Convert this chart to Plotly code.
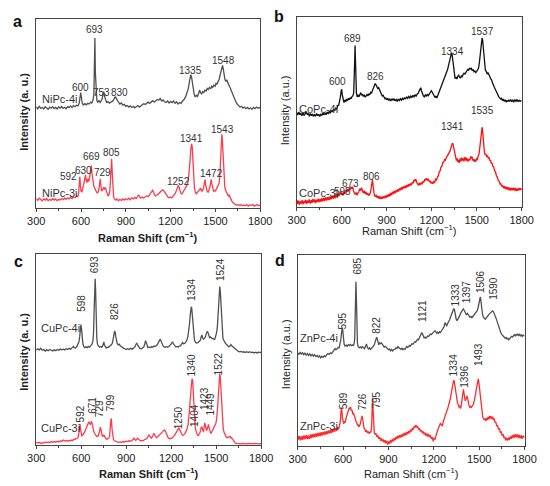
import plotly.graph_objects as go

# spectra as (Raman shift, intensity in % of panel height)
NIPC_4I = [(300,53.5),(310,52.5),(320,53.8),(330,52.8),(340,53.2),(350,52.4),(360,53.6),(370,53.0),(380,52.2),(390,53.4),(400,52.8),(410,53.6),(420,52.6),(430,53.2),(440,52.4),(450,53.5),(460,52.9),(470,53.7),(480,52.7),(490,53.3),(500,52.5),(510,53.6),(520,53.1),(530,54.0),(540,53.2),(550,54.2),(560,53.6),(570,54.4),(580,54.0),(588,55.5),(594,58.5),(598,61.0),(602,59.0),(608,55.5),(615,54.5),(625,55.2),(635,54.6),(645,55.4),(655,55.0),(665,56.0),(672,55.6),(680,57.0),(686,60.0),(690,75.0),(693,90.0),(696,72.0),(700,60.0),(706,57.0),(712,56.0),(720,56.8),(728,55.8),(735,56.6),(742,57.8),(748,60.5),(753,61.5),(758,59.0),(765,56.5),(772,55.6),(780,56.4),(790,55.5),(800,56.0),(810,56.4),(818,57.2),(825,58.4),(830,59.0),(836,58.0),(842,57.0),(850,56.2),(860,55.0),(870,55.6),(880,54.4),(890,54.8),(900,53.8),(910,54.2),(920,53.4),(930,54.0),(940,53.2),(950,53.8),(960,53.0),(970,53.6),(980,54.2),(990,53.4),(1000,54.0),(1010,54.6),(1020,55.2),(1030,54.8),(1040,55.6),(1050,56.0),(1060,55.4),(1070,56.2),(1080,56.8),(1090,56.0),(1100,56.8),(1110,57.4),(1120,57.0),(1130,58.0),(1140,56.6),(1150,57.2),(1160,56.2),(1170,55.8),(1180,56.6),(1190,55.6),(1200,56.4),(1210,55.8),(1220,56.6),(1230,55.4),(1240,56.2),(1250,55.0),(1260,55.8),(1270,55.4),(1280,56.6),(1290,57.4),(1300,58.8),(1310,60.6),(1318,63.0),(1325,66.5),(1330,69.0),(1335,70.5),(1340,69.5),(1346,66.0),(1352,62.5),(1358,60.0),(1365,58.8),(1372,59.6),(1380,59.0),(1388,60.6),(1395,62.4),(1400,61.0),(1408,60.4),(1415,61.6),(1422,61.0),(1430,62.4),(1438,61.8),(1445,63.2),(1452,62.6),(1460,63.8),(1468,63.0),(1475,64.4),(1482,63.8),(1490,65.0),(1498,64.4),(1505,66.0),(1512,65.4),(1518,67.0),(1525,68.0),(1532,70.5),(1538,73.0),(1544,75.0),(1548,75.5),(1553,73.5),(1558,70.0),(1564,68.0),(1570,67.0),(1576,67.8),(1582,66.6),(1588,65.8),(1594,64.4),(1600,63.4),(1608,61.8),(1615,60.2),(1622,58.6),(1630,57.2),(1638,56.0),(1646,55.0),(1655,54.2),(1665,53.4),(1675,53.8),(1685,52.8),(1695,53.4),(1705,52.6),(1715,53.2),(1725,52.4),(1735,53.0),(1745,52.2),(1755,53.2),(1765,52.6),(1775,53.4),(1785,52.8),(1795,53.2),(1800,52.8)]

NIPC_3I = [(300,5.0),(310,4.0),(320,5.2),(330,4.4),(340,3.8),(350,4.8),(360,4.2),(370,5.0),(380,3.8),(390,4.6),(400,4.0),(410,5.0),(420,4.2),(430,4.8),(440,3.8),(450,4.6),(460,4.2),(470,5.0),(480,4.4),(490,5.2),(500,4.6),(510,5.4),(520,4.8),(530,5.6),(540,5.0),(550,5.8),(560,5.4),(570,6.4),(578,6.0),(584,8.0),(588,13.0),(592,16.5),(596,12.0),(600,9.0),(606,8.6),(612,10.0),(618,12.5),(624,15.0),(630,17.5),(635,14.5),(640,13.5),(646,15.5),(652,14.0),(658,16.5),(663,19.5),(669,22.5),(674,18.0),(680,14.0),(686,11.5),(692,10.5),(698,9.0),(704,8.4),(710,8.0),(716,8.6),(721,10.5),(725,13.5),(729,15.5),(733,12.0),(738,9.0),(744,9.6),(750,10.6),(756,10.0),(762,11.0),(768,9.6),(774,7.6),(780,6.6),(786,6.8),(792,8.5),(797,14.0),(801,22.0),(805,26.0),(809,19.0),(813,9.0),(818,6.0),(824,4.8),(832,4.2),(840,4.8),(850,3.8),(860,4.6),(870,4.0),(880,4.8),(890,4.2),(900,5.0),(910,4.4),(920,5.2),(930,4.4),(940,5.4),(950,4.8),(960,5.6),(970,5.0),(980,6.2),(986,7.0),(992,6.0),(1000,5.2),(1010,5.8),(1020,5.2),(1030,6.0),(1040,6.4),(1050,6.0),(1060,7.0),(1068,7.6),(1074,8.6),(1080,9.4),(1086,8.4),(1092,7.0),(1100,6.4),(1108,6.8),(1116,7.4),(1124,7.8),(1132,8.6),(1140,9.0),(1148,9.6),(1154,9.2),(1160,8.4),(1168,7.2),(1176,6.4),(1184,5.6),(1192,5.4),(1200,5.8),(1208,5.4),(1216,6.2),(1224,6.8),(1232,7.8),(1240,9.6),(1246,11.4),(1252,12.0),(1258,10.6),(1264,8.6),(1270,7.6),(1276,7.4),(1282,8.0),(1290,9.4),(1298,10.4),(1306,11.4),(1314,13.0),(1320,15.6),(1326,20.0),(1331,26.0),(1336,31.5),(1341,34.0),(1345,32.0),(1350,25.0),(1355,16.0),(1360,10.4),(1366,8.2),(1372,7.6),(1378,8.2),(1386,8.8),(1394,9.6),(1400,10.6),(1405,9.4),(1410,8.8),(1416,9.6),(1422,11.0),(1427,13.8),(1431,15.0),(1435,12.0),(1440,9.4),(1446,8.6),(1452,8.4),(1458,9.6),(1464,11.2),(1469,14.0),(1472,15.2),(1476,13.0),(1482,9.6),(1488,8.8),(1494,9.2),(1500,9.0),(1506,10.0),(1512,10.8),(1518,11.4),(1524,12.8),(1529,16.0),(1533,22.0),(1537,30.0),(1540,36.0),(1543,39.0),(1546,37.0),(1550,30.0),(1554,20.0),(1558,13.4),(1563,11.0),(1568,9.4),(1574,8.4),(1580,6.8),(1586,6.4),(1592,6.8),(1598,5.6),(1605,4.4),(1612,3.4),(1620,2.6),(1630,2.0),(1640,1.6),(1650,1.8),(1660,1.4),(1670,1.8),(1680,1.2),(1690,1.6),(1700,1.2),(1710,1.8),(1720,1.0),(1730,1.6),(1740,1.4),(1750,1.8),(1760,1.0),(1770,1.4),(1780,1.8),(1790,1.2),(1800,1.6)]

COPC_4I = [(300,49.8),(307,48.4),(314,50.0),(321,48.6),(328,49.4),(335,48.0),(342,49.6),(349,48.2),(356,49.0),(363,50.2),(370,48.6),(377,49.4),(384,47.8),(391,49.2),(398,48.0),(405,49.0),(412,47.6),(419,48.8),(426,47.8),(433,49.2),(440,48.0),(447,48.8),(454,47.6),(461,49.0),(468,48.2),(475,49.4),(482,48.4),(489,49.6),(496,48.6),(503,50.0),(510,49.0),(517,50.4),(524,49.4),(531,50.8),(538,50.0),(545,51.4),(552,50.6),(559,52.0),(566,51.6),(573,53.4),(580,53.6),(586,55.6),(591,57.8),(596,61.0),(600,62.0),(604,59.0),(609,56.0),(615,55.0),(621,56.4),(627,55.4),(633,56.8),(639,56.0),(645,57.2),(651,56.4),(657,57.6),(663,57.0),(669,58.2),(675,58.6),(680,60.0),(684,66.0),(687,78.0),(689,85.0),(691,80.0),(694,66.0),(698,60.0),(703,58.0),(709,58.8),(715,58.0),(721,59.0),(727,60.2),(733,58.8),(739,59.4),(745,58.2),(751,58.8),(757,57.8),(763,58.6),(769,59.2),(775,58.4),(781,59.6),(787,59.0),(793,60.4),(799,60.0),(805,61.4),(811,62.6),(817,63.6),(823,65.0),(828,64.4),(834,63.6),(840,62.4),(846,62.8),(852,61.4),(858,60.4),(864,59.6),(870,58.4),(876,58.8),(882,57.6),(888,57.0),(894,57.4),(900,56.4),(907,57.2),(914,56.0),(921,56.8),(928,55.8),(935,57.0),(942,56.2),(949,57.0),(956,55.8),(963,56.6),(970,55.6),(977,56.8),(984,56.0),(991,57.0),(998,56.2),(1005,57.2),(1012,56.4),(1019,57.6),(1026,56.8),(1033,58.0),(1040,57.2),(1047,58.2),(1054,57.4),(1061,58.4),(1068,57.6),(1075,58.8),(1082,58.0),(1089,59.0),(1096,58.4),(1103,59.4),(1110,59.8),(1116,61.0),(1122,62.4),(1127,62.8),(1132,61.2),(1138,59.4),(1144,58.6),(1150,58.0),(1157,59.0),(1164,58.2),(1171,59.4),(1178,58.6),(1185,59.6),(1192,60.2),(1198,61.2),(1204,60.4),(1210,59.4),(1216,58.2),(1222,57.6),(1228,58.4),(1234,57.4),(1240,58.6),(1246,59.8),(1252,61.4),(1258,62.2),(1264,63.6),(1270,64.6),(1276,66.0),(1282,67.2),(1288,68.6),(1294,69.8),(1300,71.0),(1306,72.4),(1312,74.4),(1318,76.0),(1324,78.4),(1328,80.0),(1332,81.0),(1336,80.4),(1340,77.6),(1345,73.4),(1350,69.4),(1356,67.6),(1362,68.4),(1368,67.4),(1374,68.8),(1380,69.4),(1386,68.4),(1392,67.8),(1398,69.0),(1404,68.6),(1410,69.8),(1416,70.4),(1422,70.0),(1428,71.2),(1434,71.6),(1440,72.4),(1446,72.0),(1452,73.2),(1458,72.6),(1464,73.0),(1470,71.8),(1476,72.4),(1482,71.2),(1488,71.6),(1494,70.8),(1500,71.4),(1506,72.0),(1512,73.0),(1518,76.0),(1523,80.0),(1528,85.0),(1532,88.0),(1536,89.0),(1540,87.6),(1544,84.0),(1548,78.0),(1553,74.0),(1558,72.0),(1564,71.4),(1570,70.0),(1576,70.6),(1582,69.0),(1588,68.6),(1594,67.4),(1600,66.8),(1606,65.2),(1612,64.4),(1618,63.0),(1624,62.0),(1630,60.8),(1636,60.0),(1642,59.2),(1648,58.0),(1654,57.4),(1660,56.8),(1666,57.2),(1672,56.0),(1678,56.8),(1684,55.6),(1690,56.4),(1696,55.2),(1702,56.2),(1708,55.4),(1714,56.4),(1720,55.6),(1727,56.6),(1734,55.4),(1741,56.2),(1748,55.4),(1755,56.4),(1762,55.6),(1769,56.6),(1776,55.4),(1783,56.2),(1790,55.6),(1800,56.2)]

COPC_3I = [(300,3.8),(306,1.6),(312,3.4),(318,1.2),(324,3.0),(330,1.8),(336,3.6),(342,1.4),(348,3.2),(354,2.0),(360,3.8),(366,1.6),(372,3.4),(378,2.2),(384,4.0),(390,1.8),(396,3.6),(402,2.2),(408,4.2),(414,2.4),(420,4.0),(426,2.0),(432,3.8),(438,2.6),(444,4.4),(450,2.6),(456,4.2),(462,2.8),(468,4.6),(474,3.0),(480,4.8),(486,3.2),(492,5.0),(498,3.4),(504,5.2),(510,3.6),(516,5.4),(522,3.8),(528,5.6),(534,4.2),(540,6.0),(546,4.4),(552,6.2),(558,4.6),(564,6.6),(570,5.0),(576,7.0),(582,5.6),(588,7.4),(592,8.4),(596,6.6),(602,7.6),(608,6.0),(614,8.0),(620,6.8),(626,8.8),(632,7.6),(638,9.4),(644,8.2),(650,10.0),(656,8.8),(662,10.6),(668,9.6),(673,10.6),(678,8.6),(684,7.8),(690,6.6),(696,7.6),(702,6.2),(708,7.4),(714,8.0),(720,9.6),(726,8.6),(732,10.2),(738,8.4),(744,7.4),(750,8.6),(756,7.0),(762,8.0),(768,6.4),(774,7.2),(780,6.0),(786,6.8),(792,7.6),(797,10.4),(801,13.4),(805,14.4),(809,11.2),(813,7.6),(818,6.2),(824,5.4),(830,6.4),(836,4.8),(842,5.8),(848,4.4),(854,5.6),(860,4.2),(866,5.4),(872,4.4),(878,5.6),(884,4.6),(890,6.0),(896,4.8),(902,6.4),(908,5.2),(914,6.8),(920,5.6),(926,7.4),(932,6.2),(938,8.0),(944,6.8),(950,8.4),(956,7.2),(962,8.8),(968,7.8),(974,9.4),(980,8.2),(986,9.8),(992,8.8),(998,10.4),(1004,9.2),(1010,10.8),(1016,9.8),(1022,11.2),(1028,10.0),(1034,11.6),(1040,10.6),(1046,12.0),(1052,11.0),(1058,12.4),(1064,11.4),(1070,13.0),(1076,12.4),(1082,14.4),(1088,13.6),(1094,14.8),(1100,13.0),(1106,12.4),(1112,11.4),(1118,12.6),(1124,11.6),(1130,12.8),(1136,12.0),(1142,13.6),(1148,13.0),(1154,14.6),(1160,14.0),(1166,15.2),(1172,14.0),(1178,14.8),(1184,13.2),(1190,13.8),(1196,12.4),(1202,13.2),(1208,12.2),(1214,13.4),(1220,13.0),(1226,14.6),(1232,14.2),(1238,15.8),(1244,16.4),(1250,18.4),(1256,19.0),(1262,21.0),(1268,21.4),(1274,23.4),(1280,23.6),(1286,25.0),(1292,24.6),(1298,26.0),(1304,26.8),(1310,27.6),(1316,28.6),(1322,29.4),(1328,31.0),(1333,32.4),(1338,33.6),(1342,33.2),(1346,31.4),(1350,29.6),(1355,26.8),(1360,26.2),(1365,24.4),(1370,25.6),(1375,23.6),(1380,24.8),(1385,23.2),(1390,25.6),(1395,24.0),(1400,26.0),(1405,24.4),(1410,25.6),(1415,24.0),(1420,26.2),(1425,24.6),(1430,26.0),(1435,24.2),(1440,25.4),(1445,24.0),(1450,25.2),(1455,24.6),(1460,26.6),(1465,25.6),(1470,26.4),(1475,24.4),(1480,25.2),(1485,23.8),(1490,25.0),(1495,24.0),(1500,25.4),(1505,25.0),(1510,26.8),(1515,27.6),(1520,30.6),(1525,35.0),(1529,38.6),(1533,41.0),(1536,42.0),(1539,40.6),(1543,36.4),(1547,31.6),(1552,28.6),(1557,27.4),(1562,28.0),(1567,26.4),(1572,27.2),(1577,25.6),(1582,26.2),(1587,24.4),(1592,24.8),(1597,23.0),(1602,23.4),(1608,21.4),(1614,21.0),(1620,19.0),(1626,18.4),(1632,16.4),(1638,15.8),(1644,14.0),(1650,13.6),(1656,12.0),(1662,12.2),(1668,10.8),(1674,11.4),(1680,9.8),(1686,11.0),(1692,9.4),(1698,10.6),(1704,9.2),(1710,10.4),(1716,8.8),(1722,10.2),(1728,8.6),(1734,10.0),(1740,8.8),(1746,10.2),(1752,8.6),(1758,10.0),(1764,8.4),(1770,9.8),(1776,8.6),(1782,10.0),(1788,8.8),(1794,9.8),(1800,9.0)]

CUPC_4I = [(300,49.6),(310,50.4),(320,49.8),(330,50.6),(340,49.6),(350,50.0),(360,49.2),(370,49.8),(380,49.4),(390,50.0),(400,49.6),(410,49.2),(420,49.8),(430,49.4),(440,50.0),(450,49.6),(460,50.2),(470,49.8),(480,50.2),(490,49.8),(500,50.4),(510,50.0),(520,50.6),(530,50.2),(540,51.0),(548,51.6),(555,51.0),(562,50.8),(570,51.4),(578,52.4),(585,54.0),(590,57.0),(594,61.0),(598,63.0),(602,61.0),(606,56.5),(611,53.0),(617,51.6),(624,51.0),(632,51.4),(640,51.0),(648,51.6),(656,51.2),(664,52.0),(671,52.6),(677,54.0),(682,58.0),(686,70.0),(690,83.0),(693,87.0),(696,81.0),(700,66.0),(704,56.0),(709,52.6),(715,51.6),(722,51.2),(730,51.6),(737,51.2),(744,52.0),(748,53.6),(751,54.0),(754,52.6),(760,51.4),(766,50.8),(773,51.2),(780,51.0),(788,51.6),(795,52.0),(802,52.6),(808,53.4),(813,55.0),(818,57.4),(822,59.4),(826,59.2),(830,57.0),(835,54.6),(840,53.2),(846,52.4),(853,52.8),(860,52.0),(868,51.4),(876,51.0),(884,50.6),(892,50.4),(900,50.0),(910,50.4),(920,50.0),(930,50.6),(940,50.2),(950,50.8),(958,51.4),(965,52.6),(970,53.4),(975,52.6),(982,51.2),(990,50.6),(1000,50.4),(1010,50.8),(1018,51.4),(1024,53.0),(1029,54.6),(1033,53.8),(1038,51.8),(1045,51.0),(1052,51.2),(1060,51.0),(1068,51.4),(1076,51.2),(1084,51.8),(1092,51.6),(1100,52.0),(1108,52.6),(1114,53.6),(1120,54.8),(1126,55.4),(1132,54.6),(1138,53.0),(1145,52.0),(1152,51.4),(1160,51.2),(1168,51.6),(1176,51.2),(1184,51.6),(1192,52.0),(1199,52.8),(1205,53.6),(1210,53.8),(1215,53.0),(1222,52.0),(1230,51.4),(1238,51.6),(1246,51.2),(1254,51.8),(1262,52.0),(1270,52.8),(1276,53.6),(1282,53.0),(1290,53.2),(1298,54.0),(1305,55.0),(1312,57.0),(1318,60.0),(1323,64.0),(1327,68.0),(1331,71.4),(1334,72.4),(1337,71.6),(1341,67.6),(1345,62.0),(1350,57.4),(1355,55.0),(1362,53.8),(1370,53.4),(1378,53.6),(1386,54.0),(1394,54.8),(1400,56.6),(1405,57.6),(1410,56.0),(1416,55.4),(1422,56.0),(1428,56.6),(1434,58.2),(1440,59.4),(1445,59.0),(1450,57.4),(1456,56.2),(1462,56.6),(1468,56.0),(1474,55.6),(1480,55.8),(1486,55.2),(1492,55.6),(1498,57.0),(1503,59.0),(1508,62.0),(1512,67.0),(1516,74.0),(1520,80.0),(1524,83.0),(1528,80.0),(1532,73.0),(1536,65.0),(1540,59.6),(1545,56.0),(1550,55.0),(1556,54.0),(1562,53.2),(1570,52.6),(1578,52.0),(1585,51.4),(1592,51.8),(1598,52.6),(1604,52.0),(1610,51.6),(1618,51.0),(1626,50.2),(1634,49.6),(1644,49.2),(1654,48.8),(1664,49.0),(1674,48.6),(1684,48.8),(1694,48.4),(1704,48.8),(1714,48.4),(1724,48.8),(1734,48.4),(1744,48.6),(1754,48.2),(1764,48.6),(1774,48.2),(1784,48.6),(1794,48.4),(1800,48.6)]

CUPC_3I = [(300,1.6),(310,1.0),(320,1.4),(330,0.8),(340,1.2),(350,1.0),(360,1.6),(370,1.2),(380,1.6),(390,1.2),(400,1.8),(410,1.4),(420,1.8),(430,1.4),(440,2.0),(450,1.6),(460,2.2),(470,1.8),(480,2.6),(488,2.2),(496,2.0),(504,2.4),(512,2.0),(520,2.4),(528,2.2),(536,2.6),(544,2.4),(552,3.0),(560,3.0),(568,3.4),(575,3.6),(581,4.4),(586,7.0),(589,10.0),(592,11.0),(595,8.4),(599,5.6),(604,4.8),(610,5.2),(616,5.8),(622,6.6),(628,7.8),(634,9.2),(640,10.4),(646,11.4),(651,12.2),(655,11.6),(660,10.6),(665,11.6),(669,12.4),(673,11.2),(678,8.6),(684,7.0),(690,6.0),(696,5.2),(702,4.6),(708,4.4),(714,4.8),(720,6.4),(724,8.4),(728,9.4),(732,8.0),(736,5.6),(741,4.4),(746,4.8),(750,5.4),(755,4.6),(760,3.6),(766,3.2),(772,3.0),(778,3.2),(784,3.6),(789,4.6),(793,7.6),(796,11.6),(799,14.0),(802,12.6),(806,8.0),(810,4.6),(815,3.0),(822,2.2),(830,1.8),(840,1.6),(850,1.4),(860,1.6),(870,1.4),(880,1.8),(890,1.6),(900,2.0),(910,1.8),(920,2.2),(930,2.0),(940,2.4),(946,2.8),(952,3.6),(957,2.8),(963,2.4),(970,2.8),(975,3.8),(980,3.2),(986,2.6),(994,2.2),(1002,2.4),(1010,2.2),(1018,2.6),(1026,2.8),(1034,3.2),(1040,3.6),(1046,4.4),(1052,5.2),(1057,4.6),(1062,3.8),(1068,3.6),(1074,4.2),(1080,5.6),(1085,6.2),(1090,5.2),(1096,4.2),(1102,3.8),(1108,4.2),(1114,4.6),(1120,5.0),(1126,5.6),(1132,6.0),(1138,6.4),(1144,7.0),(1150,7.6),(1156,7.8),(1162,7.2),(1168,5.8),(1174,4.6),(1180,3.8),(1186,3.4),(1192,3.2),(1198,3.4),(1204,3.6),(1210,4.0),(1216,4.4),(1222,5.0),(1228,5.8),(1234,6.8),(1240,7.8),(1246,8.6),(1250,8.8),(1255,8.4),(1260,7.4),(1266,6.2),(1272,5.4),(1278,5.0),(1284,5.2),(1290,5.8),(1296,6.6),(1302,7.6),(1308,9.0),(1313,11.0),(1318,14.0),(1322,18.0),(1326,23.0),(1330,28.0),(1334,32.0),(1338,34.2),(1341,34.6),(1344,33.0),(1348,27.0),(1352,19.0),(1356,13.0),(1360,9.4),(1365,7.4),(1370,5.8),(1376,5.0),(1382,5.0),(1388,5.6),(1393,6.6),(1398,8.4),(1402,9.6),(1406,9.2),(1410,7.4),(1414,6.8),(1418,8.4),(1421,10.6),(1424,11.6),(1427,10.6),(1431,8.4),(1435,7.6),(1439,8.0),(1443,9.4),(1446,10.6),(1449,10.8),(1453,9.0),(1458,7.2),(1463,6.2),(1468,6.4),(1474,7.4),(1480,8.6),(1486,9.6),(1492,10.2),(1498,11.4),(1503,13.4),(1507,16.4),(1511,21.0),(1515,27.0),(1518,32.0),(1521,36.0),(1524,37.4),(1527,36.0),(1530,31.0),(1534,23.0),(1538,16.0),(1542,11.6),(1547,8.6),(1552,6.8),(1558,5.4),(1564,4.6),(1570,4.0),(1576,3.8),(1582,4.2),(1588,4.6),(1593,4.4),(1598,3.6),(1603,3.8),(1608,3.2),(1614,2.2),(1620,1.4),(1628,1.0),(1636,0.8),(1646,0.6),(1656,0.8),(1666,0.6),(1676,0.8),(1686,0.6),(1696,0.8),(1706,0.6),(1716,0.8),(1726,0.6),(1736,0.8),(1746,0.6),(1756,0.8),(1766,0.6),(1776,0.8),(1786,0.6),(1800,0.8)]

ZNPC_4I = [(300,48.8),(308,48.0),(316,49.0),(324,48.2),(332,48.8),(340,47.8),(348,48.6),(356,47.6),(364,48.4),(372,47.4),(380,48.2),(388,47.2),(396,48.0),(404,47.0),(412,47.8),(420,46.8),(428,47.4),(436,46.6),(444,47.2),(452,46.2),(460,47.0),(468,46.4),(476,47.2),(484,46.8),(492,47.8),(500,48.4),(508,48.0),(516,48.8),(524,48.4),(532,49.4),(540,49.8),(547,51.0),(553,50.4),(560,50.8),(567,51.6),(574,51.4),(580,53.0),(585,55.4),(589,58.6),(592,61.0),(595,62.0),(598,60.6),(602,56.6),(607,53.4),(613,52.4),(620,52.8),(627,52.2),(634,53.0),(641,52.6),(648,53.2),(655,52.6),(662,53.0),(668,52.4),(673,53.6),(677,56.0),(680,64.0),(682,76.0),(685,86.0),(688,78.0),(691,62.0),(695,54.0),(700,52.0),(707,51.4),(714,52.0),(721,51.2),(728,52.0),(735,51.6),(742,51.0),(749,52.4),(755,53.4),(760,51.8),(767,50.8),(774,51.4),(781,50.6),(788,51.2),(795,51.6),(802,52.4),(808,53.4),(813,55.0),(818,56.6),(822,57.0),(826,56.2),(831,54.0),(836,53.0),(842,54.0),(848,53.6),(854,54.0),(860,53.2),(866,52.4),(872,51.8),(879,52.2),(886,51.4),(893,51.0),(900,50.4),(907,50.8),(914,49.8),(921,50.6),(928,49.8),(935,50.4),(942,50.6),(949,51.4),(956,51.0),(962,52.0),(968,51.4),(975,51.0),(982,50.6),(989,51.2),(996,50.4),(1003,51.0),(1010,50.6),(1016,51.4),(1021,52.4),(1026,51.6),(1032,51.8),(1038,52.6),(1044,52.2),(1050,53.0),(1056,53.6),(1062,53.2),(1068,54.0),(1074,54.6),(1080,54.4),(1086,55.2),(1092,55.8),(1098,55.6),(1104,56.8),(1110,57.6),(1115,58.6),(1120,59.2),(1125,58.8),(1130,57.4),(1136,56.6),(1142,57.0),(1148,56.4),(1154,57.0),(1160,57.6),(1166,57.4),(1172,58.2),(1178,58.6),(1184,58.4),(1190,59.0),(1196,59.6),(1202,59.6),(1208,60.4),(1214,59.8),(1220,59.0),(1226,59.6),(1232,59.0),(1238,59.8),(1244,59.4),(1250,60.2),(1256,60.8),(1262,61.4),(1268,62.4),(1272,64.0),(1276,64.6),(1280,63.6),(1286,63.0),(1292,64.2),(1298,65.0),(1304,66.0),(1310,67.4),(1316,68.8),(1322,70.4),(1327,71.4),(1332,72.0),(1337,71.2),(1342,68.6),(1348,66.4),(1354,65.6),(1360,66.4),(1366,67.2),(1372,68.4),(1378,69.6),(1384,70.6),(1390,71.4),(1395,71.8),(1400,71.2),(1405,70.2),(1410,69.2),(1416,68.6),(1422,69.4),(1428,68.6),(1434,67.8),(1440,67.4),(1446,67.8),(1452,67.2),(1458,67.8),(1464,68.4),(1470,68.6),(1476,69.4),(1482,70.0),(1487,70.8),(1492,72.0),(1496,73.6),(1500,75.6),(1504,77.4),(1507,78.0),(1510,77.0),(1514,74.0),(1518,71.0),(1523,68.6),(1528,67.4),(1534,67.0),(1540,66.4),(1546,67.0),(1552,67.4),(1558,68.2),(1564,68.8),(1570,69.4),(1576,70.0),(1582,70.6),(1588,70.8),(1594,70.4),(1600,69.4),(1606,68.4),(1612,66.8),(1618,65.4),(1624,63.6),(1630,62.2),(1636,60.6),(1642,59.6),(1648,58.6),(1654,58.0),(1660,57.4),(1666,57.0),(1672,56.4),(1678,56.8),(1684,56.0),(1690,56.4),(1696,55.6),(1702,56.2),(1708,56.6),(1714,57.4),(1720,57.0),(1726,57.8),(1732,58.2),(1738,57.6),(1744,58.4),(1750,58.0),(1756,58.6),(1762,57.8),(1768,58.4),(1774,57.6),(1780,58.2),(1786,57.4),(1792,58.0),(1800,57.6)]

ZNPC_3I = [(300,5.6),(306,3.4),(312,5.2),(318,3.0),(324,5.0),(330,3.2),(336,5.4),(342,3.4),(348,5.6),(354,3.8),(360,5.8),(366,3.6),(372,5.4),(378,3.8),(384,6.0),(390,4.2),(396,6.2),(402,4.4),(408,6.4),(414,4.6),(420,6.6),(426,4.8),(432,6.8),(438,5.0),(444,7.0),(450,5.2),(456,7.2),(462,5.4),(468,7.4),(474,5.8),(480,7.6),(486,6.0),(492,7.8),(498,6.2),(504,8.2),(510,6.6),(516,8.4),(522,6.8),(528,8.8),(534,7.2),(540,9.0),(546,7.6),(552,9.4),(558,8.0),(564,9.8),(570,8.6),(576,10.6),(581,12.4),(585,16.4),(589,20.0),(592,18.6),(596,14.4),(600,12.2),(605,11.6),(610,13.0),(615,12.4),(620,14.6),(625,15.6),(630,17.4),(635,18.6),(640,20.0),(645,19.2),(650,20.4),(655,18.4),(660,18.8),(665,16.6),(670,17.0),(675,14.8),(680,14.6),(685,12.8),(690,12.4),(695,11.0),(700,11.0),(705,10.0),(710,10.6),(714,11.6),(718,13.2),(722,15.0),(726,15.8),(730,14.0),(734,11.0),(739,9.2),(744,8.8),(750,7.4),(756,8.2),(762,6.8),(768,7.6),(774,6.4),(780,7.4),(785,7.4),(789,10.4),(792,16.0),(795,25.4),(798,20.0),(802,11.0),(806,7.4),(812,6.0),(818,6.6),(824,4.8),(830,5.6),(836,3.8),(842,4.6),(848,2.8),(854,4.0),(860,2.4),(866,3.4),(872,1.8),(878,3.0),(884,1.4),(890,2.6),(896,0.8),(902,2.4),(908,1.2),(914,3.0),(920,1.8),(926,3.6),(932,2.4),(938,4.2),(944,3.0),(950,4.8),(956,3.6),(962,5.4),(968,4.0),(974,5.6),(980,4.4),(986,6.0),(992,4.8),(998,6.6),(1004,5.4),(1010,7.0),(1016,5.6),(1022,7.4),(1028,6.2),(1034,7.8),(1040,6.8),(1046,8.6),(1052,7.6),(1058,9.4),(1064,8.6),(1070,10.4),(1076,9.8),(1082,11.0),(1088,9.6),(1094,10.2),(1100,8.6),(1106,9.2),(1112,7.6),(1118,8.4),(1124,6.8),(1130,7.6),(1136,6.0),(1142,7.0),(1148,5.4),(1154,6.6),(1160,5.0),(1166,6.2),(1172,4.6),(1178,5.6),(1184,3.8),(1190,4.6),(1196,2.4),(1202,4.0),(1208,3.6),(1214,5.6),(1220,6.2),(1226,8.4),(1232,9.6),(1238,11.2),(1244,12.0),(1250,11.0),(1256,10.4),(1262,12.6),(1268,14.4),(1274,15.6),(1280,16.8),(1286,18.4),(1292,19.6),(1298,21.0),(1304,22.8),(1310,25.0),(1316,27.8),(1321,30.4),(1326,32.6),(1330,34.0),(1334,34.4),(1338,33.0),(1342,30.4),(1347,27.6),(1352,24.6),(1357,22.4),(1362,21.6),(1367,20.4),(1372,20.8),(1377,19.6),(1381,21.0),(1385,24.0),(1389,27.0),(1393,29.0),(1396,29.6),(1400,27.6),(1404,25.0),(1408,23.6),(1412,24.6),(1416,26.0),(1420,26.2),(1424,24.8),(1428,22.4),(1432,21.4),(1437,20.4),(1442,20.8),(1447,20.0),(1452,20.6),(1457,21.4),(1462,22.0),(1467,23.6),(1472,25.0),(1476,27.0),(1480,29.4),(1484,31.6),(1488,33.4),(1491,34.6),(1494,35.2),(1497,34.0),(1501,31.0),(1505,27.0),(1509,23.4),(1514,19.6),(1519,16.6),(1524,15.0),(1529,14.4),(1534,13.6),(1539,14.4),(1544,13.2),(1549,14.6),(1554,13.6),(1559,15.2),(1564,14.0),(1569,15.8),(1574,14.4),(1579,15.6),(1584,14.2),(1589,15.4),(1594,13.6),(1599,14.4),(1604,12.6),(1610,12.4),(1616,10.6),(1622,10.6),(1628,8.8),(1634,9.0),(1640,7.2),(1646,7.4),(1652,5.6),(1658,6.0),(1664,4.2),(1670,4.8),(1676,3.0),(1682,4.2),(1688,2.8),(1694,4.4),(1700,3.2),(1706,5.0),(1712,3.8),(1718,5.6),(1724,4.2),(1730,6.0),(1736,4.4),(1742,6.2),(1748,4.6),(1754,6.0),(1760,4.2),(1766,5.8),(1772,4.0),(1778,5.6),(1784,3.8),(1790,5.4),(1800,4.4)]

# peak labels: (text, x, y) ; y in % of panel height
LABELS_A = [("693", 689, 94.5), ("600", 594, 63.6), ("753", 740, 61.0), ("830", 861, 61.0),
            ("1335", 1336, 72.5), ("1548", 1553, 77.8), ("1543", 1546, 41.6), ("1341", 1340, 36.9),
            ("1472", 1475, 18.0), ("1252", 1256, 14.1), ("805", 805, 29.2), ("669", 672, 27.1),
            ("729", 745, 18.6), ("630", 616, 19.9), ("592", 513, 16.8)]
LABELS_B = [("689", 675, 88.8), ("600", 573, 65.9), ("826", 822, 68.9), ("1334", 1340, 81.7),
            ("1537", 1542, 92.3), ("1341", 1340, 42.2), ("1535", 1542, 51.0), ("806", 800, 16.3),
            ("673", 659, 12.6), ("595", 608, 7.9)]
LABELS_C = [("598", 605, 74.4), ("693", 686, 94.2), ("826", 823, 70.0), ("1334", 1337, 81.5),
            ("1524", 1525, 92.1), ("592", 594, 16.2), ("671", 673, 20.6), ("729", 727, 18.9),
            ("799", 793, 21.9), ("1250", 1245, 14.5), ("1340", 1335, 41.8), ("1404", 1360, 15.3),
            ("1423", 1427, 24.2), ("1449", 1463, 21.5), ("1522", 1512, 42.7)]
LABELS_D = [("595", 599, 65.6), ("685", 697, 94.3), ("822", 825, 63.0), ("1121", 1124, 70.9),
            ("1333", 1341, 78.9), ("1397", 1416, 80.7), ("1506", 1508, 86.0), ("1590", 1593, 82.4),
            ("589", 599, 23.9), ("726", 727, 23.0), ("795", 819, 23.9), ("1334", 1333, 42.6),
            ("1396", 1401, 36.3), ("1493", 1495, 47.9)]

TICKS = [300, 600, 900, 1200, 1500, 1800]

# the page adds an 8 px body margin, so the figure is shifted by it and fills the rest
OFF = 8
W, H = 550 - OFF, 486 - OFF
FONT = "Liberation Sans, Arial, sans-serif"
GREY = "#505050"


def px(x):
    return (x - OFF) / W


def py(y):
    return 1 - (y - OFF) / H


# panel boxes in page pixels: left, right, top, bottom
panels = [
    dict(box=(28, 261, 19, 208), top=NIPC_4I, bot=NIPC_3I, topc=GREY, botc="#ff3a4a",
         names=("NiPc-4i", 57.6, "NiPc-3i", 8.1), namex=322, labels=LABELS_A, rot=False,
         letter=("a", 9, 21), ytitle=("Intensity (a. u.)", 15, 112, True), xtitle=(237, True)),
    dict(box=(299, 533, 17, 207), top=COPC_4I, bot=COPC_3I, topc="#111111", botc="#ff1010",
         names=("CoPc-4i", 51.8, "CoPc-3i", 7.4), namex=303, labels=LABELS_B, rot=False,
         letter=("b", 281, 16), ytitle=("Intensity (a.u.)", 287, 110, False), xtitle=(230, False)),
    dict(box=(28, 262, 254, 445), top=CUPC_4I, bot=CUPC_3I, topc=GREY, botc="#ff3a4a",
         names=("CuPc-4i", 61.2, "CuPc-3i", 8.8), namex=318, labels=LABELS_C, rot=True,
         letter=("c", 10, 261), ytitle=("Intensity (a. u.)", 15, 352, True), xtitle=(473, True)),
    dict(box=(300, 536, 255, 446), top=ZNPC_4I, bot=ZNPC_3I, topc=GREY, botc="#ff2a2a",
         names=("ZnPc-4i", 56.7, "ZnPc-3i", 10.6), namex=303, labels=LABELS_D, rot=True,
         letter=("d", 282, 260), ytitle=("Intensity (a.u.)", 288, 354, False), xtitle=(473, False)),
]

fig = go.Figure()
annotations = []
layout = {}

for i, p in enumerate(panels, start=1):
    sfx = "" if i == 1 else str(i)
    l, r, t, b = p["box"]
    for spec, col in ((p["top"], p["topc"]), (p["bot"], p["botc"])):
        fig.add_trace(go.Scatter(x=[s[0] for s in spec], y=[s[1] for s in spec],
                                 mode="lines", line=dict(color=col, width=1.3),
                                 xaxis="x" + sfx, yaxis="y" + sfx, showlegend=False,
                                 hoverinfo="skip"))
    layout["xaxis" + sfx] = dict(
        domain=[px(l), px(r)], anchor="y" + sfx, range=[300, 1800], tickvals=TICKS,
        ticks="outside", ticklen=3, tickwidth=1, tickcolor="#444",
        minor=dict(ticks="outside", ticklen=2, dtick=150, tick0=300, tickcolor="#444"),
        showgrid=False, zeroline=False, showline=True, linecolor="#444", linewidth=1,
        mirror=True, tickfont=dict(family=FONT, size=11, color="#222"),
        tickprefix="<b>", ticksuffix="</b>")
    layout["yaxis" + sfx] = dict(
        domain=[py(b), py(t)], anchor="x" + sfx, range=[0, 100],
        showticklabels=False, ticks="", showgrid=False, zeroline=False,
        showline=True, linecolor="#444", linewidth=1, mirror=True)

    xr, yr = "x" + sfx, "y" + sfx
    n4, y4, n3, y3 = p["names"]
    for name, yy in ((n4, y4), (n3, y3)):
        annotations.append(dict(text=name, x=p["namex"], y=yy, xref=xr, yref=yr,
                                xanchor="left", yanchor="middle", showarrow=False,
                                font=dict(family=FONT, size=11, color="#333")))
    for txt, xx, yy in p["labels"]:
        annotations.append(dict(text=txt, x=xx, y=yy, xref=xr, yref=yr, xanchor="center",
                                yanchor="middle", showarrow=False,
                                textangle=-90 if p["rot"] else 0,
                                font=dict(family=FONT, size=10, color="#333")))

    letter, lx, ly = p["letter"]
    annotations.append(dict(text="<b>%s</b>" % letter, x=px(lx), y=py(ly), xref="paper",
                            yref="paper", xanchor="center", yanchor="middle", showarrow=False,
                            font=dict(family=FONT, size=16, color="#111")))
    yt, tx, ty, bold = p["ytitle"]
    annotations.append(dict(text="<b>%s</b>" % yt if bold else yt, x=px(tx), y=py(ty),
                            xref="paper", yref="paper", textangle=-90, xanchor="center",
                            yanchor="middle", showarrow=False,
                            font=dict(family=FONT, size=11, color="#222")))
    xy, bold = p["xtitle"]
    xt = "Raman Shift (cm<sup>−1</sup>)"
    annotations.append(dict(text="<b>%s</b>" % xt if bold else xt, x=px((l + r) / 2),
                            y=py(xy), xref="paper", yref="paper", xanchor="center",
                            yanchor="middle", showarrow=False,
                            font=dict(family=FONT, size=11, color="#222")))

fig.update_layout(width=W, height=H, margin=dict(l=0, r=0, t=0, b=0),
                  paper_bgcolor="white", plot_bgcolor="white",
                  annotations=annotations, **layout)

fig.write_html("out.html")
